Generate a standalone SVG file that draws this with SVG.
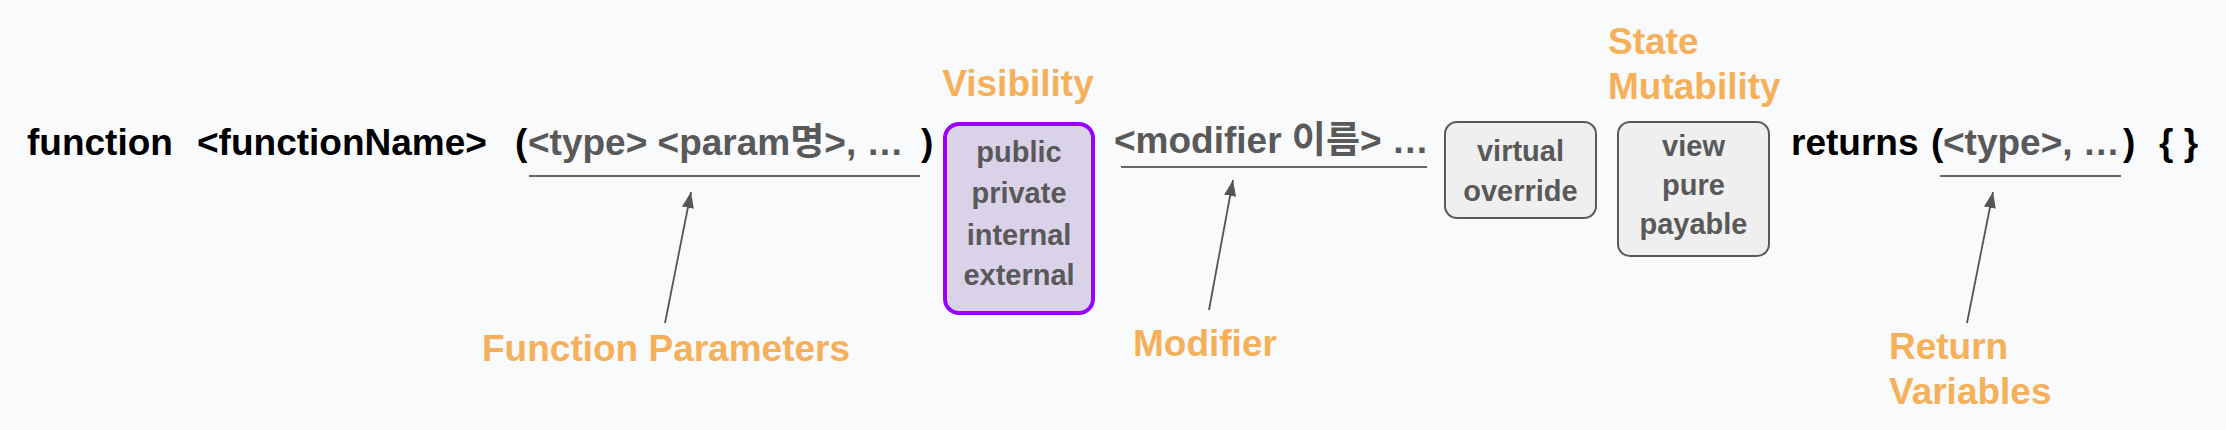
<svg xmlns="http://www.w3.org/2000/svg" width="2226" height="430" viewBox="0 0 2226 430">
  <style>
    text { font-family: "Liberation Sans", Arial, "Noto Sans CJK KR", sans-serif; font-weight: bold; }
    .code { font-size: 37px; fill: #000000; }
    .param { font-size: 37px; fill: #595959; }
    .label { font-size: 37px; fill: #F6B05A; }
    .opt { font-size: 29px; fill: #595959; text-anchor: middle; }
    .vis { fill: #D9D2E9; stroke: #9900FF; stroke-width: 4; }
    .box { fill: #EFEFEF; stroke: #595959; stroke-width: 2; }
    .uline { stroke: #666666; stroke-width: 2; fill: none; }
    .arrow { stroke: #555555; stroke-width: 1.8; fill: none; marker-end: url(#head); }
  </style>
  <defs>
    <marker id="head" viewBox="0 0 16 12" refX="16" refY="6" markerWidth="16" markerHeight="12" markerUnits="userSpaceOnUse" orient="auto">
      <path d="M0,0 L16,6 L0,12 z" fill="#555555"/>
    </marker>
  </defs>
  <rect x="0" y="0" width="2226" height="430" fill="#F9FAFC"/>

  <g id="signature">
    <text class="code" x="27" y="155">function</text>
    <text class="code" x="197" y="155">&lt;functionName&gt;</text>
    <text class="code" x="515" y="155">(</text>
    <text class="param" x="528" y="155">&lt;type&gt; &lt;param명&gt;, …</text>
    <text class="code" x="921" y="155">)</text>
    <text class="param" x="1114" y="153">&lt;modifier 이름&gt; …</text>
    <text class="code" x="1791" y="155">returns</text>
    <text class="code" x="1931" y="155">(</text>
    <text class="param" x="1943" y="155">&lt;type&gt;, …</text>
    <text class="code" x="2123" y="155">)</text>
    <text class="code" x="2159" y="155">{ }</text>
  </g>

  <g id="visibility">
    <text class="label" x="1018" y="96" text-anchor="middle">Visibility</text>
    <rect class="vis" x="945" y="124" width="148" height="189" rx="14"/>
    <text class="opt" x="1019" y="162">public</text>
    <text class="opt" x="1019" y="203">private</text>
    <text class="opt" x="1019" y="245">internal</text>
    <text class="opt" x="1019" y="285">external</text>
  </g>

  <g id="virtual-override">
    <rect class="box" x="1445" y="122" width="151" height="96" rx="12"/>
    <text class="opt" x="1520.5" y="161">virtual</text>
    <text class="opt" x="1520.5" y="201">override</text>
  </g>

  <g id="state-mutability">
    <text class="label" x="1608" y="54">State</text>
    <text class="label" x="1608" y="99">Mutability</text>
    <rect class="box" x="1618" y="122" width="151" height="134" rx="12"/>
    <text class="opt" x="1693.5" y="156">view</text>
    <text class="opt" x="1693.5" y="195">pure</text>
    <text class="opt" x="1693.5" y="234">payable</text>
  </g>

  <g id="function-parameters">
    <text class="label" x="482" y="361">Function Parameters</text>
  </g>

  <g id="modifier">
    <text class="label" x="1133" y="356">Modifier</text>
  </g>

  <g id="return-variables">
    <text class="label" x="1889" y="359">Return</text>
    <text class="label" x="1889" y="404">Variables</text>
  </g>

  <g id="connectors">
    <line class="uline" x1="529" y1="176" x2="920" y2="176"/>
    <line class="uline" x1="1121" y1="167" x2="1427" y2="167"/>
    <line class="uline" x1="1940" y1="176" x2="2121" y2="176"/>
    <line class="arrow" x1="665" y1="323" x2="691" y2="192"/>
    <line class="arrow" x1="1209" y1="310" x2="1233" y2="180"/>
    <line class="arrow" x1="1967" y1="323" x2="1993" y2="192"/>
  </g>
</svg>
